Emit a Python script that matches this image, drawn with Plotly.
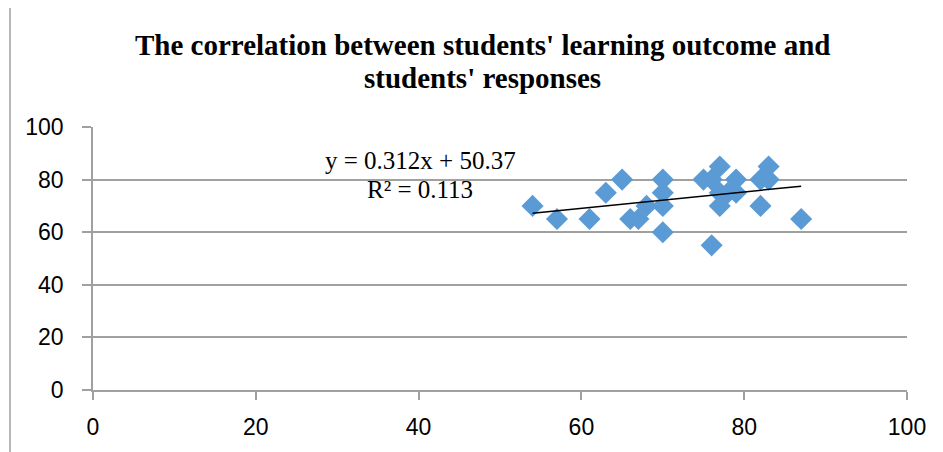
import plotly.graph_objects as go

# Data
learning_outcome = [54, 57, 61, 63, 65, 66, 67, 68, 70, 70, 70, 70, 75, 76, 76,
                    77, 77, 77, 78, 79, 79, 82, 82, 83, 83, 87]
responses = [70, 65, 65, 75, 80, 65, 65, 70, 80, 75, 70, 60, 80, 80, 55,
             85, 75, 70, 75, 80, 75, 80, 70, 85, 80, 65]
slope = 0.312
intercept = 50.37
r_squared = 0.113
x_ticks = [0, 20, 40, 60, 80, 100]
y_ticks = [0, 20, 40, 60, 80, 100]
title_lines = ["The correlation between students' learning outcome and",
               "students' responses"]

trend_x = [min(learning_outcome), max(learning_outcome)]
trend_y = [slope * v + intercept for v in trend_x]

# page offset (browser body margin) = 8px
OFF = 8
L, T = 93 - OFF, 127 - OFF
PW, PH = 814, 263.3


def px(x):
    return (x - 93) / PW


def py(y):
    return (390 - y) / PH


fig = go.Figure()
fig.add_trace(go.Scatter(
    x=learning_outcome, y=responses, mode="markers",
    marker=dict(symbol="diamond", size=17, color="#5B9BD5", line=dict(width=0)),
    showlegend=False, hoverinfo="x+y"))
fig.add_trace(go.Scatter(
    x=trend_x, y=trend_y, mode="lines",
    line=dict(color="black", width=1.5), showlegend=False))

for i, (line, ypos) in enumerate(zip(title_lines, [45, 78])):
    fig.add_annotation(
        x=px(482), y=py(ypos), xref="paper", yref="paper",
        text=f"<b>{line}</b>", showarrow=False,
        font=dict(family="Liberation Serif", size=29, color="black"),
        xanchor="center", yanchor="middle")

fig.add_annotation(
    x=px(420), y=py(160), xref="paper", yref="paper",
    text=f"y = {slope}x + {intercept}", showarrow=False,
    font=dict(family="Liberation Serif", size=25, color="black"),
    xanchor="center", yanchor="middle")
fig.add_annotation(
    x=px(420), y=py(189), xref="paper", yref="paper",
    text=f"R² = {r_squared}", showarrow=False,
    font=dict(family="Liberation Serif", size=25, color="black"),
    xanchor="center", yanchor="middle")

fig.add_shape(type="rect", xref="paper", yref="paper",
              x0=px(10), x1=px(960), y0=py(470), y1=py(6),
              line=dict(color="#A0A0A0", width=1.5), fillcolor="rgba(0,0,0,0)",
              layer="below")

fig.update_layout(
    width=943 - OFF, height=452 - OFF,
    margin=dict(l=L, r=943 - OFF - L - PW, t=T, b=452 - OFF - T - 263),
    paper_bgcolor="white", plot_bgcolor="white",
    xaxis=dict(range=[0, 100], tickvals=x_ticks, showgrid=False,
               showline=True, linecolor="#A0A0A0", linewidth=1.5,
               ticks="outside", ticklen=8, tickcolor="#A0A0A0", tickwidth=1.5,
               zeroline=False, ticklabelstandoff=8,
               tickfont=dict(family="Liberation Sans", size=23, color="black")),
    yaxis=dict(range=[0, 100], tickvals=y_ticks, showgrid=True,
               gridcolor="#A0A0A0", gridwidth=1.5,
               showline=True, linecolor="#A0A0A0", linewidth=1.5,
               ticks="outside", ticklen=9, tickcolor="#A0A0A0", tickwidth=1.5,
               zeroline=False, ticklabelstandoff=14,
               tickfont=dict(family="Liberation Sans", size=23, color="black")),
)

fig.write_html("out.html")
